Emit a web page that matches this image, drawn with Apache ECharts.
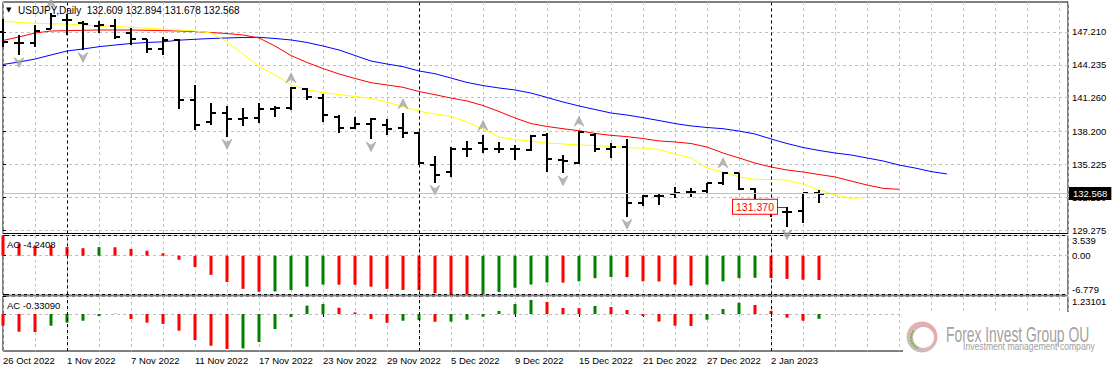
<!DOCTYPE html>
<html><head><meta charset="utf-8">
<script src="https://cdn.jsdelivr.net/npm/echarts@6/dist/echarts.min.js"></script>
<style>html,body{margin:0;padding:0;background:#fff;overflow:hidden}#c{width:1114px;height:372px}</style>
</head><body><div id="c"></div>
<script>
// ---------- data ----------
const symbol = 'USDJPY';
const timeframe = 'Daily';
const dates = ['26 Oct 2022','27 Oct 2022','28 Oct 2022','31 Oct 2022','1 Nov 2022','2 Nov 2022','3 Nov 2022','4 Nov 2022','7 Nov 2022','8 Nov 2022','9 Nov 2022','10 Nov 2022','11 Nov 2022','14 Nov 2022','15 Nov 2022','16 Nov 2022','17 Nov 2022','18 Nov 2022','21 Nov 2022','22 Nov 2022','23 Nov 2022','24 Nov 2022','25 Nov 2022','28 Nov 2022','29 Nov 2022','30 Nov 2022','1 Dec 2022','2 Dec 2022','5 Dec 2022','6 Dec 2022','7 Dec 2022','8 Dec 2022','9 Dec 2022','12 Dec 2022','13 Dec 2022','14 Dec 2022','15 Dec 2022','16 Dec 2022','19 Dec 2022','20 Dec 2022','21 Dec 2022','22 Dec 2022','23 Dec 2022','26 Dec 2022','27 Dec 2022','28 Dec 2022','29 Dec 2022','30 Dec 2022','2 Jan 2023','3 Jan 2023','4 Jan 2023','5 Jan 2023'];
const open  = [147.24,146.24,146.24,147.50,148.32,148.06,147.75,147.75,147.09,146.55,145.67,146.49,141.05,139.09,139.84,139.33,139.39,140.21,140.30,142.02,141.21,139.54,138.48,138.88,138.79,138.49,138.09,135.16,134.56,136.61,137.13,136.61,136.58,136.52,137.88,135.60,135.37,137.88,136.58,136.82,131.75,132.38,132.51,132.74,132.83,133.50,134.41,132.96,131.15,130.94,131.03,132.609];
const high  = [148.36,146.94,147.84,148.95,148.80,148.24,148.24,148.36,147.54,146.60,146.73,146.55,142.41,140.75,140.51,140.30,140.75,140.51,142.20,142.10,141.59,139.69,139.48,139.39,139.30,139.84,138.15,135.98,136.82,137.37,137.88,137.28,136.97,137.88,138.03,136.07,138.27,138.03,137.18,137.49,132.45,132.60,133.14,133.05,133.56,134.50,134.42,133.05,131.54,131.39,132.66,132.894];
const low   = [145.88,145.13,145.88,147.45,146.94,145.58,147.09,146.55,146.03,145.34,145.13,140.21,138.33,138.79,137.73,138.70,138.94,139.54,140.14,141.05,139.09,138.03,138.40,137.49,137.88,137.58,135.16,133.56,134.11,135.91,136.22,136.22,135.62,136.46,134.56,134.41,135.23,136.37,135.77,130.48,131.45,131.54,132.15,132.24,132.60,133.35,132.90,130.79,130.48,129.52,129.88,131.678];
const close = [146.33,146.24,147.30,148.70,148.28,147.93,147.84,146.73,146.55,145.67,146.49,141.05,138.79,139.84,139.33,139.39,140.21,140.30,142.11,141.29,139.69,138.48,138.88,139.30,138.39,138.03,135.31,134.26,136.61,136.61,136.61,136.61,136.58,137.82,135.68,135.52,138.12,136.58,136.82,131.75,132.35,132.38,132.60,132.74,133.50,134.41,132.96,131.15,130.91,130.94,132.60,132.568];
// Alligator lines (jaw shifted 8, teeth 5, lips 3 bars ahead)
const jaw   = [144.27,144.49,144.76,145.13,145.49,145.67,145.88,146.03,146.17,146.26,146.32,146.47,146.55,146.62,146.67,146.71,146.73,146.62,146.49,146.26,145.94,145.58,145.08,144.58,144.31,144.07,143.68,143.43,143.04,142.64,142.36,142.14,141.96,141.68,141.28,140.87,140.51,140.19,139.87,139.69,139.45,139.19,138.92,138.70,138.56,138.45,138.24,137.97,137.52,137.11,136.75,136.48,136.25,136.07,135.80,135.53,135.16,134.89,134.57,134.35];
const teeth = [146.44,146.76,147.12,147.30,147.33,147.36,147.39,147.39,147.39,147.36,147.33,147.30,147.25,147.16,147.07,146.94,146.67,145.94,145.08,144.45,143.90,143.41,143.00,142.62,142.41,142.20,141.82,141.53,141.23,140.96,140.55,140.01,139.42,138.92,138.65,138.45,138.27,138.02,137.85,137.73,137.56,137.34,137.25,137.11,136.79,136.25,135.80,135.34,134.98,134.71,134.53,134.30,134.08,133.71,133.35,133.05,132.96];
const lips  = [148.21,148.07,148.00,147.96,147.93,147.84,147.75,147.71,147.64,147.55,147.46,147.39,147.30,147.12,146.33,145.22,144.08,143.32,142.41,142.00,141.73,141.55,141.37,141.19,140.87,140.44,140.05,139.78,139.56,139.06,138.42,137.70,137.47,137.31,137.16,137.07,136.97,136.93,136.84,136.73,136.70,136.57,136.16,135.80,134.89,134.53,134.08,133.87,133.85,133.80,133.44,132.90,132.45,132.15,132.22];
const ao = [3.539,2.13,1.81,1.78,1.51,1.32,1.51,1.48,1.19,0.87,0.43,-0.70,-1.96,-3.34,-4.60,-5.79,-6.30,-6.25,-5.98,-5.41,-5.04,-5.06,-5.08,-5.41,-5.79,-5.98,-6.00,-6.55,-6.74,-6.779,-6.70,-6.36,-5.60,-5.04,-4.66,-4.70,-4.47,-3.92,-3.72,-3.75,-4.47,-4.50,-5.04,-5.23,-5.04,-4.47,-3.91,-3.85,-3.90,-4.05,-4.20,-4.2408];
const ac = [-0.80,-1.21,-1.23,-0.80,-0.59,-0.46,-0.14,0.02,-0.34,-0.59,-0.68,-1.14,-1.78,-2.17,-2.39,-2.35,-1.92,-1.03,-0.21,0.57,0.68,0.43,0.11,-0.34,-0.60,-0.46,-0.41,-0.53,-0.52,-0.39,-0.18,0.21,0.68,0.96,0.82,0.41,0.40,0.55,0.48,0.27,-0.14,-0.52,-0.80,-0.82,-0.39,0.34,0.77,0.62,0.21,-0.25,-0.46,-0.3309];
const upFractals = [3,18,25,30,36,45];
const downFractals = [1,5,14,23,27,35,39,49];
const priceTicks = [129.275,132.250,135.225,138.200,141.260,144.235,147.210];
const aoTicks = [-6.779,0,3.539];
const acTicks = [0,1.23101];
const markedPrice = 131.370;

// ---------- chart ----------
const FONT = '"Liberation Sans", Arial, sans-serif';
const FS = 9.5;
const XMAX = 66.5625;
const N = dates.length;
const monthOf = d => d.split(' ')[1];
const sepIdx = dates.map((d,i)=> (i>0 && monthOf(d)!==monthOf(dates[i-1])) ? i : -1).filter(i=>i>=0);
const labelIdx = dates.map((d,i)=>i).filter(i=>i%4===0);
const ohlc = open.map((o,i)=>[i,o,high[i],low[i],close[i]]);
const toPts = arr => arr.map((v,i)=>[i,v]);
const GRID = '#c0c0c0';

const sepLine = {
  silent:true, symbol:'none', animation:false,
  label:{show:false},
  lineStyle:{color:'#000', type:[3,3], width:1},
  data: sepIdx.map(i=>({xAxis:i}))
};

function splitAxis(gi, pos){
  return {type:'value', gridIndex:gi, position:pos||'bottom', min:0, max:XMAX, interval:2,
    axisLine:{show:false}, axisTick:{show:false}, axisLabel:{show:false},
    splitLine:{show:true, lineStyle:{color:GRID, type:[3,3], width:1}}};
}

function renderOHLC(params, api){
  const x = api.value(0);
  const h = api.coord([x, api.value(2)]);
  const l = api.coord([x, api.value(3)]);
  const o = api.coord([x, api.value(1)]);
  const c = api.coord([x, api.value(4)]);
  const px = Math.round(h[0]);
  const st = {stroke:'#000', lineWidth:2};
  const oy = Math.round(o[1]), cy = Math.round(c[1]);
  return {type:'group', children:[
    {type:'line', shape:{x1:px, y1:Math.round(h[1]), x2:px, y2:Math.round(l[1])}, style:st},
    {type:'line', shape:{x1:px-5, y1:oy, x2:px, y2:oy}, style:st},
    {type:'line', shape:{x1:px, y1:cy, x2:px+5, y2:cy}, style:st}
  ]};
}

const histColor = arr => p => (p.dataIndex>0 && arr[p.dataIndex] > arr[p.dataIndex-1]) ? '#008000' : '#ff0000';

const chart = echarts.init(document.getElementById('c'), null, {renderer:'svg'});
const gridBase = {left:3, right:46, show:true, borderColor:'#000', borderWidth:1, backgroundColor:'#fff'};

const option = {
  animation:false,
  backgroundColor:'#fff',
  grid:[
    Object.assign({top:2, height:231.5}, gridBase),
    Object.assign({top:235.5, height:59}, gridBase),
    Object.assign({top:296, height:55}, gridBase)
  ],
  xAxis:[
    splitAxis(0),
    splitAxis(1),
    {type:'value', gridIndex:2, position:'bottom', min:0, max:XMAX,
      axisLine:{show:false},
      axisTick:{show:true, customValues:labelIdx, length:3, lineStyle:{color:'#000'}},
      axisLabel:{customValues:labelIdx, formatter:v=>dates[v]||'', align:'left', margin:4, color:'#000', fontSize:FS, fontFamily:FONT},
      splitLine:{show:false}},
    splitAxis(2,'top')
  ],
  yAxis:[
    {type:'value', gridIndex:0, position:'right', min:128.958, max:149.927,
      axisLine:{show:false},
      axisTick:{show:true, customValues:priceTicks, length:3, lineStyle:{color:'#000'}},
      axisLabel:{customValues:priceTicks, formatter:v=>v.toFixed(3), margin:4, color:'#000', fontSize:FS, fontFamily:FONT},
      splitLine:{show:true, lineStyle:{color:GRID, type:[3,3], width:1}}},
    {type:'value', gridIndex:1, position:'right', min:-6.779, max:3.539,
      axisLine:{show:false},
      axisTick:{show:true, customValues:aoTicks, length:3, lineStyle:{color:'#000'}},
      axisLabel:{customValues:aoTicks, formatter:v=> v===0?'0.00':v.toFixed(3), margin:4, color:'#000', fontSize:FS, fontFamily:FONT,
        verticalAlignMaxLabel:'top', verticalAlignMinLabel:'bottom'},
      splitLine:{show:true, lineStyle:{color:GRID, type:[3,3], width:1}}},
    {type:'value', gridIndex:2, position:'right', min:-2.53, max:1.23101,
      axisLine:{show:false},
      axisTick:{show:true, customValues:acTicks, length:3, lineStyle:{color:'#000'}},
      axisLabel:{customValues:acTicks, formatter:v=> v===0?'0.00':v.toFixed(5), margin:4, color:'#000', fontSize:FS, fontFamily:FONT,
        verticalAlignMaxLabel:'top'},
      splitLine:{show:true, lineStyle:{color:GRID, type:[3,3], width:1}}}
  ],
  series:[
    {type:'custom', name:'price', xAxisIndex:0, yAxisIndex:0, z:3, renderItem:renderOHLC,
      encode:{x:0, y:[1,2,3,4]}, data:ohlc,
      markLine:{silent:true, symbol:'none', animation:false,
        lineStyle:{color:GRID, type:'solid', width:1},
        label:{show:true, position:'end', distance:1, formatter:()=>close[N-1].toFixed(3),
          backgroundColor:'#000', color:'#fff', padding:[2,4,1,4], fontSize:FS, fontFamily:FONT},
        data:[{yAxis:close[N-1]}]}},
    {type:'line', name:'jaw', xAxisIndex:0, yAxisIndex:0, z:2, data:toPts(jaw), showSymbol:false, symbol:'none',
      lineStyle:{color:'#0000ff', width:1}, silent:true},
    {type:'line', name:'teeth', xAxisIndex:0, yAxisIndex:0, z:2, data:toPts(teeth), showSymbol:false, symbol:'none',
      lineStyle:{color:'#ff0000', width:1}, silent:true},
    {type:'line', name:'lips', xAxisIndex:0, yAxisIndex:0, z:2, data:toPts(lips), showSymbol:false, symbol:'none',
      lineStyle:{color:'#ffff00', width:1}, silent:true, markLine:sepLine},
    {type:'scatter', name:'fractalUp', xAxisIndex:0, yAxisIndex:0, z:4, silent:true,
      data:upFractals.map(i=>[i, high[i]]),
      symbol:'path://M5,0 L10,10 L5,6.5 L0,10 Z', symbolSize:[10,10], symbolOffset:[0,-9.5],
      itemStyle:{color:'#a4a4a4', borderColor:'#8c8c8c', borderWidth:0.5},
      markLine:{silent:true, symbol:'none', animation:false,
        lineStyle:{color:'#ff0000', type:'solid', width:1},
        label:{show:true, position:'start', distance:0, formatter:()=>markedPrice.toFixed(3),
          color:'#ff0000', borderColor:'#ff0000', borderWidth:1, backgroundColor:'#fff', padding:[2,3,1,3], fontSize:10.5, fontFamily:FONT},
        data:[[{coord:[48.375, markedPrice]},{coord:[48.94, markedPrice]}]]}},
    {type:'scatter', name:'fractalDown', xAxisIndex:0, yAxisIndex:0, z:4, silent:true,
      data:downFractals.map(i=>[i, low[i]]),
      symbol:'path://M0,0 L5,3.5 L10,0 L5,10 Z', symbolSize:[10,10], symbolOffset:[0,7.5],
      itemStyle:{color:'#a4a4a4', borderColor:'#8c8c8c', borderWidth:0.5}},
    {type:'bar', name:'AO', xAxisIndex:1, yAxisIndex:1, data:toPts(ao), barWidth:3, silent:true,
      itemStyle:{color:histColor(ao)}, markLine:sepLine},
    {type:'bar', name:'AC', xAxisIndex:2, yAxisIndex:2, data:toPts(ac), barWidth:3, silent:true,
      itemStyle:{color:histColor(ac)}, markLine:sepLine}
  ],
  graphic:[
    {type:'text', x:6, y:10, z:50, style:{text:'▼', font:'7px "DejaVu Sans"', fill:'#000', verticalAlign:'middle'}},
    {type:'text', x:18, y:10.5, z:50, style:{
      text: symbol+','+timeframe+'  '+open[N-1].toFixed(3)+' '+high[N-1].toFixed(3)+' '+low[N-1].toFixed(3)+' '+close[N-1].toFixed(3),
      font:'10px '+FONT, fill:'#000', verticalAlign:'middle'}},
    {type:'text', x:7, y:244.5, z:50, style:{text:'AO '+ao[N-1].toFixed(4), font:FS+'px '+FONT, fill:'#000', verticalAlign:'middle'}},
    {type:'text', x:7, y:305.5, z:50, style:{text:'AC '+ac[N-1].toFixed(5), font:FS+'px '+FONT, fill:'#000', verticalAlign:'middle'}},
    // watermark
    {type:'rect', z:100, shape:{x:903, y:312, width:211, height:60}, style:{fill:'#fff'}},
    {type:'circle', z:101, shape:{cx:922, cy:337, r:15.5}, style:{
      fill:new echarts.graphic.LinearGradient(1,0,0,1,[{offset:0,color:'#eaa2a2'},{offset:0.5,color:'#dcb8b8'},{offset:1,color:'#bdbdbd'}])}},
    {type:'circle', z:102, shape:{cx:923.5, cy:337.5, r:10.5}, style:{fill:'#fff'}},
    {type:'arc', z:103, shape:{cx:922, cy:338, r:11, startAngle:2.0, endAngle:3.9}, style:{stroke:'#7cb342', lineWidth:2, lineDash:[2,1], fill:null}},
    {type:'text', z:103, x:946, y:334.5, scaleX:0.63, style:{text:'Forex Invest Group OU', font:'22px '+FONT, fill:'#a3a3a3', verticalAlign:'middle'}},
    {type:'text', z:103, x:963, y:347, scaleX:0.86, style:{text:'Investment management company', font:'10px '+FONT, fill:'#a0a0a0', verticalAlign:'middle'}}
  ]
};
chart.setOption(option);
</script>
</body></html>
